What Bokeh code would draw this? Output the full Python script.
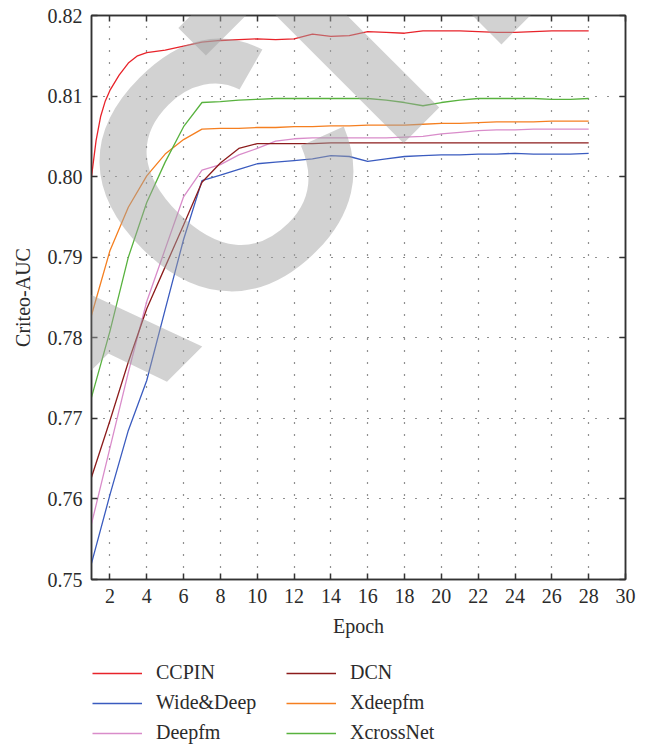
from bokeh.plotting import figure
from bokeh.layouts import column
from bokeh.models import (Range1d, FixedTicker, PrintfTickFormatter, LinearAxis,
                          Legend, LegendItem, Label)
from bokeh.embed import file_html
from bokeh.resources import INLINE

# ---------------- data ----------------
epochs = list(range(1, 29))
ccpin_epochs = [1, 1.25, 1.5, 1.75, 2, 2.5, 3, 3.5, 4] + list(range(5, 29))
ccpin = [0.8000, 0.8045, 0.8075, 0.8094, 0.8107, 0.8126, 0.8141, 0.8150, 0.8154,
         0.8157, 0.8162, 0.8167, 0.8169, 0.8170, 0.8171, 0.8170, 0.8171, 0.8177,
         0.8174, 0.8175, 0.8180, 0.8179, 0.8178, 0.8181, 0.8181, 0.8181, 0.8180,
         0.8179, 0.8179, 0.8180, 0.8181, 0.8181, 0.8181]
wide_deep = [0.7520, 0.7605, 0.7685, 0.7747, 0.7835, 0.7922, 0.7995, 0.8002, 0.8009,
             0.8016, 0.8018, 0.8020, 0.8022, 0.8026, 0.8025, 0.8019, 0.8022, 0.8025,
             0.8026, 0.8027, 0.8027, 0.8028, 0.8028, 0.8029, 0.8028, 0.8028, 0.8028,
             0.8029]
deepfm = [0.7569, 0.7663, 0.7757, 0.7845, 0.7910, 0.7975, 0.8008, 0.8015, 0.8027,
          0.8035, 0.8044, 0.8047, 0.8048, 0.8048, 0.8048, 0.8048, 0.8048, 0.8049,
          0.8050, 0.8053, 0.8055, 0.8057, 0.8058, 0.8058, 0.8059, 0.8059, 0.8059,
          0.8059]
dcn = [0.7627, 0.7697, 0.7770, 0.7836, 0.7888, 0.7940, 0.7993, 0.8017, 0.8035,
       0.8041, 0.8041, 0.8041, 0.8041, 0.8042, 0.8042, 0.8042, 0.8042, 0.8042,
       0.8042, 0.8042, 0.8042, 0.8042, 0.8042, 0.8042, 0.8042, 0.8042, 0.8042,
       0.8042]
xdeepfm = [0.7828, 0.7908, 0.7962, 0.8001, 0.8028, 0.8046, 0.8059, 0.8060, 0.8060,
           0.8061, 0.8061, 0.8062, 0.8062, 0.8063, 0.8063, 0.8064, 0.8064, 0.8064,
           0.8065, 0.8066, 0.8066, 0.8067, 0.8068, 0.8068, 0.8068, 0.8069, 0.8069,
           0.8069]
xcrossnet = [0.7726, 0.7808, 0.7900, 0.7968, 0.8018, 0.8062, 0.8092, 0.8093, 0.8095,
             0.8096, 0.8097, 0.8097, 0.8097, 0.8097, 0.8097, 0.8097, 0.8095, 0.8092,
             0.8088, 0.8092, 0.8095, 0.8097, 0.8097, 0.8097, 0.8097, 0.8096, 0.8096,
             0.8097]

series_names = ["CCPIN", "Wide&Deep", "Deepfm", "DCN", "Xdeepfm", "XcrossNet"]
series_x = [ccpin_epochs, epochs, epochs, epochs, epochs, epochs]
series_y = [ccpin, wide_deep, deepfm, dcn, xdeepfm, xcrossnet]
series_colors = ["#e8232a", "#3a5bbf", "#d98cca", "#8c1c1c", "#f57f20", "#58b23e"]

x_ticks = list(range(2, 31, 2))
y_ticks = [0.75, 0.76, 0.77, 0.78, 0.79, 0.80, 0.81, 0.82]

# watermark (decoration)
wm_letters = ["A", "C", "T", "E"]
wm_pixels = [(33, 343), (221, 169), (335, 39), (481, -108)]

# ---------------- main figure ----------------
FONT = "Liberation Serif"
TXT = "#2b2b2b"
W = 656
MAIN_H = 650
LEG_H = 98
LEFT, RIGHT, TOP, BOTTOM = 91, 31, 15, MAIN_H - 579

p = figure(width=W, height=MAIN_H, output_backend="svg", toolbar_location=None,
           x_range=Range1d(1, 30), y_range=Range1d(0.75, 0.82),
           min_border_left=LEFT, min_border_right=RIGHT,
           min_border_top=TOP, min_border_bottom=BOTTOM)
p.background_fill_color = "white"
p.border_fill_color = "white"
p.outline_line_color = "#333333"
p.outline_line_width = 1.5

xa = p.xaxis[0]
ya = p.yaxis[0]

fw = W - LEFT - RIGHT
fh = MAIN_H - TOP - BOTTOM


def px_to_data(px, py):
    x = 1 + (px - LEFT) / fw * 29
    y = 0.82 - (py - TOP) / fh * 0.07
    return x, y


for xs, ys, c in zip(series_x, series_y, series_colors):
    p.line(xs, ys, line_color=c, line_width=1.3)

xt = FixedTicker(ticks=x_ticks)
yt = FixedTicker(ticks=y_ticks)
xa.ticker = xt
ya.ticker = yt
ya.formatter = PrintfTickFormatter(format="%.2f")
p.xgrid.ticker = xt
p.ygrid.ticker = yt
for g in (p.xgrid, p.ygrid):
    g.grid_line_color = "#222222"
    g.grid_line_dash = "1 11"
    g.grid_line_width = 1.2

top_ax = LinearAxis(ticker=xt)
right_ax = LinearAxis(ticker=yt)

for ax in (xa, ya, top_ax, right_ax):
    ax.axis_line_color = "#333333"
    ax.axis_line_width = 1.5
    ax.major_tick_line_color = "#333333"
    ax.major_tick_line_width = 1.5
    ax.major_tick_in = 6
    ax.major_tick_out = 0
    ax.minor_tick_line_color = None
    ax.major_label_text_font = FONT
    ax.major_label_text_font_size = "20px"
    ax.major_label_text_color = TXT
    ax.major_label_standoff = 9
    ax.axis_label_text_font = FONT
    ax.axis_label_text_font_size = "20px"
    ax.axis_label_text_font_style = "normal"
    ax.axis_label_text_color = TXT

for ax in (top_ax, right_ax):
    ax.major_label_text_alpha = 0
    ax.major_label_text_font_size = "1px"
    ax.major_label_standoff = 0

p.add_layout(top_ax, "above")
p.add_layout(right_ax, "right")

xa.axis_label = "Epoch"
ya.axis_label = "Criteo-AUC"
xa.axis_label_standoff = 9
ya.axis_label_standoff = 11

for letter, (px, py) in zip(wm_letters, wm_pixels):
    dx, dy = px_to_data(px, py)
    p.add_layout(Label(x=dx, y=dy, text=letter, angle=45, angle_units="deg",
                       text_font="Liberation Sans", text_font_style="bold",
                       text_font_size="350px", text_color="#a0a0a0",
                       text_alpha=0.48, text_align="center",
                       text_baseline="middle"))

# ---------------- legend strip ----------------
# the strip's ranges lie away from the data, so its copies of the lines only feed the legend
lf = figure(width=W, height=LEG_H, output_backend="svg", toolbar_location=None,
            x_axis_type=None, y_axis_type=None, x_range=Range1d(-10, -9),
            y_range=Range1d(0, 1), min_border_left=LEFT, min_border_right=RIGHT,
            min_border_top=10, min_border_bottom=0)
lf.outline_line_color = None
lf.grid.visible = False
lf.background_fill_color = "white"
lf.border_fill_color = "white"

leg_renderers = [lf.line(xs, ys, line_color=c, line_width=1.3)
                 for xs, ys, c in zip(series_x, series_y, series_colors)]
items = [LegendItem(label=n, renderers=[r]) for n, r in zip(series_names, leg_renderers)]
legend = Legend(items=items, nrows=3, orientation="vertical",
                label_text_font=FONT, label_text_font_size="20px",
                label_text_color=TXT, glyph_width=50, glyph_height=20,
                label_height=20, label_width=123, label_standoff=14,
                spacing=7, padding=0, margin=1, location="top_left",
                border_line_alpha=0, background_fill_alpha=0)
lf.add_layout(legend, "center")

layout = column(p, lf, spacing=0)
open("out.html", "w").write(file_html(layout, INLINE))
